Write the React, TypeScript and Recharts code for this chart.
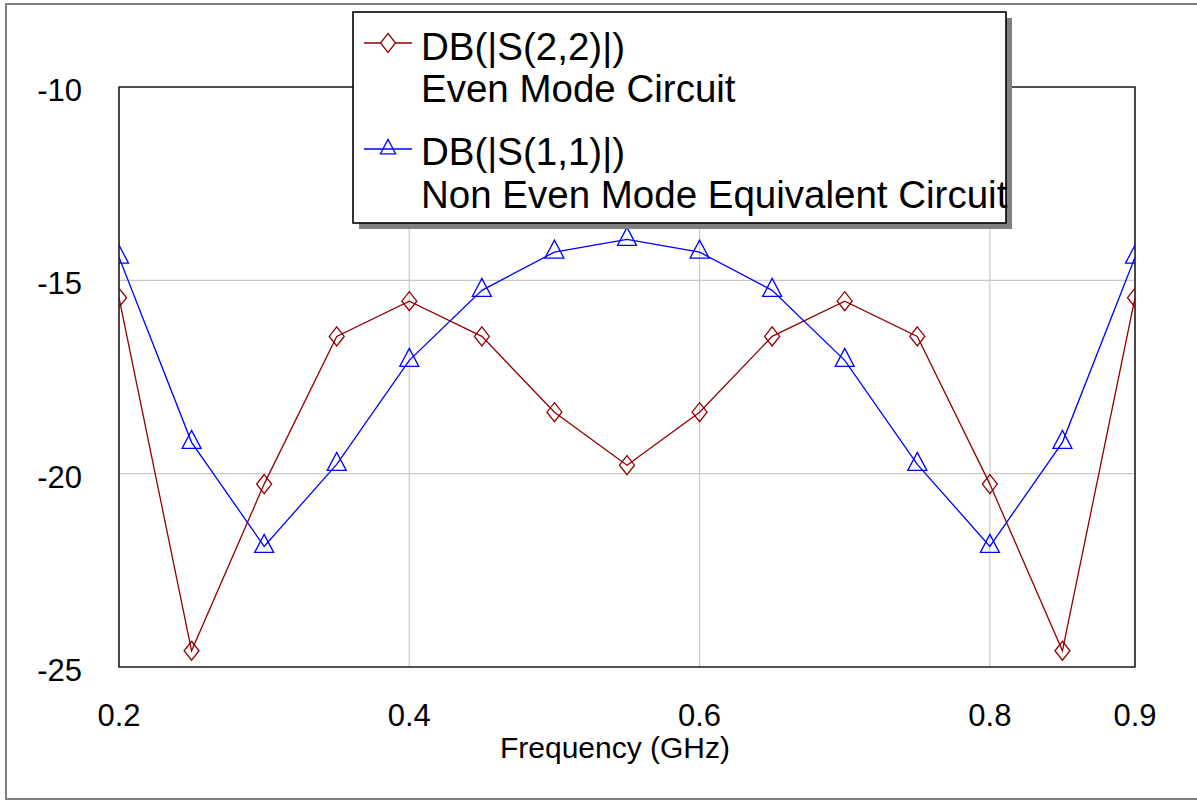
import React from 'react';
import { LineChart, Line, XAxis, YAxis, CartesianGrid, ReferenceArea, Legend, Label } from 'recharts';

const freqs = [0.2, 0.25, 0.3, 0.35, 0.4, 0.45, 0.5, 0.55, 0.6, 0.65, 0.7, 0.75, 0.8, 0.85, 0.9];
const s22Even = [-15.45, -24.58, -20.27, -16.45, -15.54, -16.45, -18.41, -19.78, -18.41, -16.45, -15.54, -16.45, -20.27, -24.58, -15.45];
const s11NonEven = [-14.4, -19.19, -21.88, -19.76, -17.07, -15.26, -14.27, -13.94, -14.27, -15.26, -17.07, -19.76, -21.88, -19.19, -14.4];

const xTicks = [0.2, 0.4, 0.6, 0.8, 0.9];
const yTicks = [-25, -20, -15, -10];

const seriesNames = ['DB(|S(2,2)|)', 'DB(|S(1,1)|)'];
const seriesNotes = ['Even Mode Circuit', 'Non Even Mode Equivalent Circuit'];

const RED = '#900000';
const BLUE = '#0000ff';
const FONT = '"Liberation Sans", Arial, sans-serif';

const data = freqs.map((f, i) => ({ f, s22: s22Even[i], s11: s11NonEven[i] }));

const diamondPath = (cx: number, cy: number) =>
  `M${cx},${cy - 9.5}L${cx + 7.5},${cy}L${cx},${cy + 9.5}L${cx - 7.5},${cy}Z`;
const trianglePath = (cx: number, cy: number, s = 1) =>
  `M${cx},${cy - 12 * s}L${cx + 9.5 * s},${cy + 6 * s}L${cx - 9.5 * s},${cy + 6 * s}Z`;

const Diamond = (props: any) => {
  const { cx, cy } = props;
  if (cx == null || cy == null) return null;
  return <path d={diamondPath(cx, cy)} fill="none" stroke={RED} strokeWidth={1.3} />;
};

const Triangle = (props: any) => {
  const { cx, cy } = props;
  if (cx == null || cy == null) return null;
  return <path d={trianglePath(cx, cy)} fill="none" stroke={BLUE} strokeWidth={1.3} />;
};

const YTick = ({ x, y, payload }: any) => (
  <text x={x} y={y + 14} textAnchor="end" fontFamily={FONT} fontSize={31} fill="#000">
    {payload.value}
  </text>
);

const XTick = ({ x, y, payload }: any) => (
  <text x={x} y={y + 23} textAnchor="middle" fontFamily={FONT} fontSize={31} fill="#000">
    {payload.value}
  </text>
);

const LegendBox = () => {
  const colors = [RED, BLUE];
  return (
    <svg width={666} height={224} style={{ display: 'block' }}>
      <rect x={7} y={7} width={653} height={211} fill="#808080" />
      <rect x={1} y={1} width={653} height={211} fill="#fff" stroke="#000" strokeWidth={1.6} />
      {seriesNames.map((name, i) => {
        const ly = i === 0 ? 32 : 138;
        const b1 = i === 0 ? 49 : 154;
        const b2 = i === 0 ? 91 : 197;
        return (
          <g key={name}>
            <line x1={12} x2={60} y1={ly} y2={ly} stroke={colors[i]} strokeWidth={1.3} />
            {i === 0 ? (
              <path d={diamondPath(36, ly)} fill="#fff" stroke={RED} strokeWidth={1.3} />
            ) : (
              <path d={trianglePath(36, ly, 0.8)} fill="none" stroke={BLUE} strokeWidth={1.3} />
            )}
            <text x={69} y={b1} fontFamily={FONT} fontSize={38.5} fill="#000">{name}</text>
            <text x={69} y={b2} fontFamily={FONT} fontSize={38.5} fill="#000">{seriesNotes[i]}</text>
          </g>
        );
      })}
    </svg>
  );
};

export default function App() {
  return (
    <div style={{ position: 'absolute', left: 0, top: 0, width: 1197, height: 801, background: '#fff' }}>
      <div
        style={{
          position: 'absolute',
          left: 5,
          top: 3,
          width: 1194,
          height: 797,
          border: '2px solid #808080',
          boxSizing: 'border-box',
        }}
      />
      <div style={{ position: 'absolute', left: 0, top: 0 }}>
        <LineChart width={1197} height={801} data={data} margin={{ top: 87, right: 62, bottom: 0, left: 0 }}>
          <CartesianGrid stroke="#c8c8c8" strokeWidth={1.2} />
          <XAxis
            dataKey="f"
            type="number"
            domain={[0.2, 0.9]}
            ticks={xTicks}
            allowDataOverflow
            height={134}
            tickLine={false}
            axisLine={false}
            tickSize={0}
            tickMargin={36}
            tick={<XTick />}
            interval={0}
          >
            <Label
              content={(props: any) => {
                const vb = props.viewBox || { x: 119, width: 1016, y: 667 };
                return (
                  <text x={vb.x + vb.width / 2 - 12} y={758} textAnchor="middle" fontFamily={FONT} fontSize={30} fill="#000">
                    Frequency (GHz)
                  </text>
                );
              }}
            />
          </XAxis>
          <YAxis
            type="number"
            domain={[-25, -10]}
            ticks={yTicks}
            allowDataOverflow
            width={119}
            tickLine={false}
            axisLine={false}
            tickSize={0}
            tickMargin={37}
            tick={<YTick />}
            interval={0}
          />
          <ReferenceArea x1={0.2} x2={0.9} y1={-25} y2={-10} fill="none" stroke="#222" strokeWidth={1.6} />
          <Line
            type="linear"
            dataKey="s22"
            stroke={RED}
            strokeWidth={1.3}
            dot={<Diamond />}
            activeDot={false}
            isAnimationActive={false}
          />
          <Line
            type="linear"
            dataKey="s11"
            stroke={BLUE}
            strokeWidth={1.3}
            dot={<Triangle />}
            activeDot={false}
            isAnimationActive={false}
          />
          <Legend
            layout="vertical"
            align="center"
            verticalAlign="middle"
            content={<LegendBox />}
            wrapperStyle={{ position: 'absolute', left: 352, top: 11, width: 666, height: 224 }}
          />
        </LineChart>
      </div>
    </div>
  );
}
